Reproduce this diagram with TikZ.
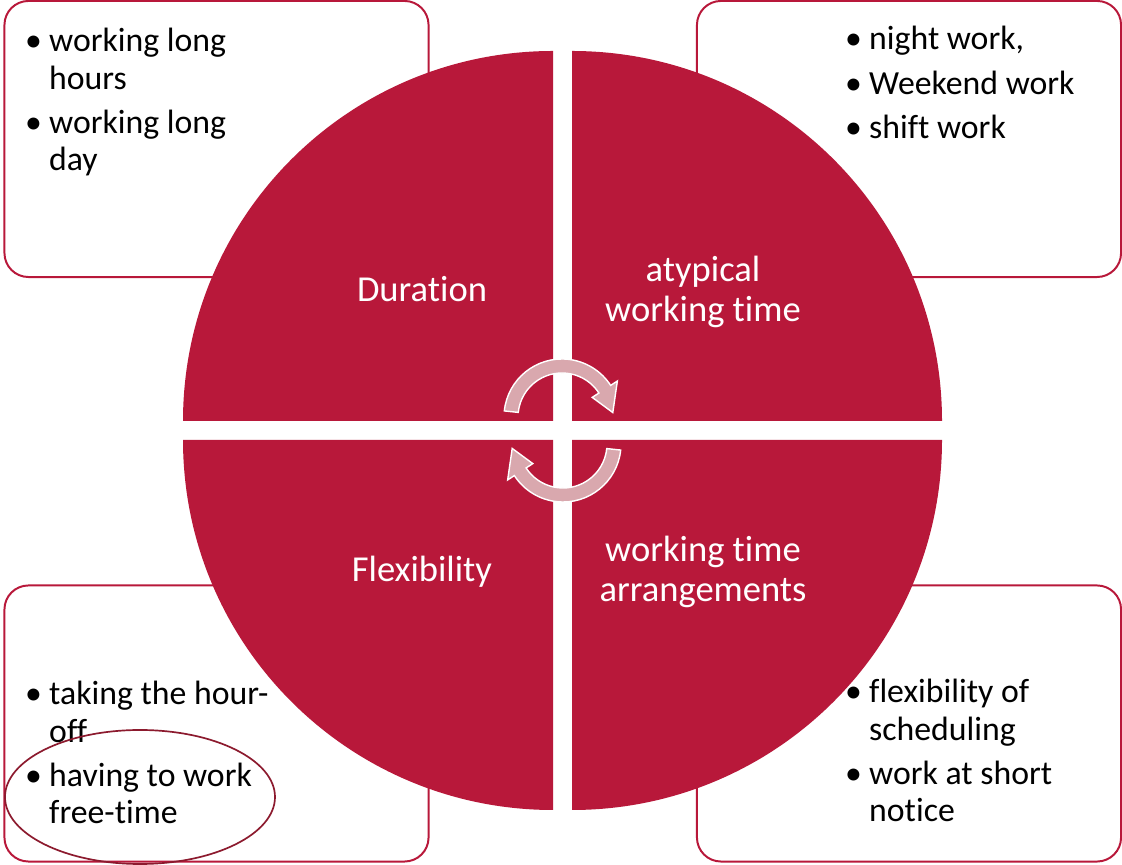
\documentclass[tikz,border=0pt]{standalone}
\usepackage{fontspec}
\setmainfont{Carlito}[Ligatures={NoCommon,NoContextual}]
\usepackage{tikz}

\definecolor{crimson}{RGB}{184,24,58}
\definecolor{arrowpink}{RGB}{217,168,174}
\definecolor{darkwine}{RGB}{140,26,46}

\newcommand{\bul}{\makebox[15.6pt][l]{\hspace{-1.5pt}\textbullet}}
\newcommand{\cyclearrow}{%
  \filldraw[turnarrow] (174:58) arc[start angle=174, end angle=33, radius=58]
    -- (33:66) -- (5:51) -- (33:36) -- (33:44)
    arc[start angle=33, end angle=174, radius=44] -- cycle;}

\begin{document}
\begin{tikzpicture}[x=0.025cm, y=0.025cm,
  listbox/.style={draw=crimson, line width=1.4pt, rounded corners=0.6cm, fill=white,
    minimum width=10.6cm, minimum height=6.9cm, inner sep=0pt},
  blist/.style={anchor=base west, inner sep=0pt, font=\fontsize{24}{26.5}\selectfont},
  qlabel/.style={anchor=base, inner sep=0pt, text=white, font=\fontsize{26}{28.4}\selectfont},
  turnarrow/.style={fill=arrowpink, draw=white, line width=1pt}]
  \useasboundingbox (0,0) rectangle (1122,865);

  \node[listbox] (tlbox) at (216.5,726) {};
  \node[listbox] (trbox) at (909,726) {};
  \node[listbox] (blbox) at (216.5,141.5) {};
  \node[listbox] (brbox) at (909,141.5) {};

  % four quarter discs with a white cross between them
  \fill[crimson] (553,444) -- (183,444) arc[start angle=180, end angle=90, radius=370] -- cycle;
  \fill[crimson] (572,444) -- (942,444) arc[start angle=0, end angle=90, radius=370] -- cycle;
  \fill[crimson] (553,425) -- (183,425) arc[start angle=180, end angle=270, radius=370] -- cycle;
  \fill[crimson] (572,425) -- (942,425) arc[start angle=0, end angle=-90, radius=370] -- cycle;

  \begin{scope}[shift={(562,448)}]
    \cyclearrow
  \end{scope}
  \begin{scope}[shift={(563,421)}, rotate=180]
    \cyclearrow
  \end{scope}

  \node[qlabel] (duration) at (422,563) {Duration};
  \node[qlabel] (atypical) at (703,583) {\begin{tabular}[t]{@{}c@{}}atypical\\working time\end{tabular}};
  \node[qlabel] (flexibility) at (422,283) {Flexibility};
  \node[qlabel] (arrangements) at (703,303) {\begin{tabular}[t]{@{}c@{}}working time\\arrangements\end{tabular}};

  \node[blist] (durlist) at (27,813) {\begin{tabular}[t]{@{}l@{}l@{}}
    \bul & working long\\ & hours\\[5pt]
    \bul & working long\\ & day\end{tabular}};
  \node[blist] (atylist) at (847,815) {\begin{tabular}[t]{@{}l@{}l@{}}
    \bul & night work,\\[5pt]
    \bul & Weekend work\\[5pt]
    \bul & shift work\end{tabular}};
  \node[blist] (flexlist) at (27,160) {\begin{tabular}[t]{@{}l@{}l@{}}
    \bul & taking the hour-\\ & off\\[5pt]
    \bul & having to work\\ & free-time\end{tabular}};
  \node[blist] (arrlist) at (847,162) {\begin{tabular}[t]{@{}l@{}l@{}}
    \bul & flexibility of\\ & scheduling\\[5pt]
    \bul & work at short\\ & notice\end{tabular}};

  \draw[darkwine, line width=1.2pt] (140,68) ellipse [x radius=135, y radius=67];
\end{tikzpicture}
\end{document}
